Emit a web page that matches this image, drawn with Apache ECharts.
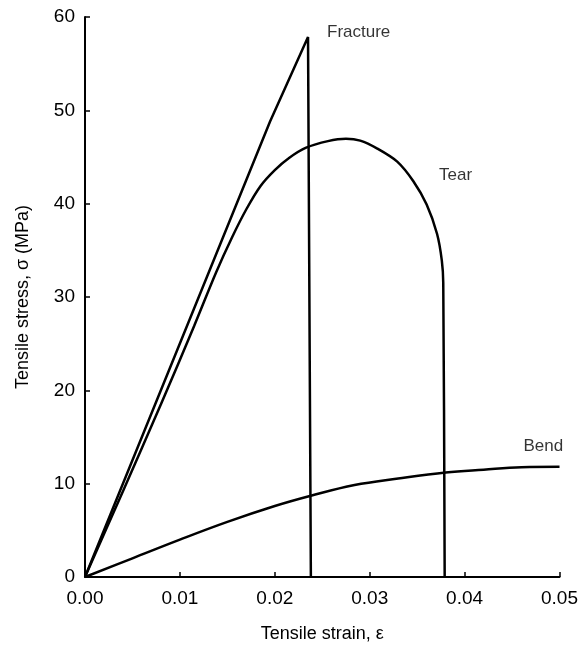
<!DOCTYPE html>
<html>
<head>
<meta charset="utf-8">
<script src="https://cdn.jsdelivr.net/npm/echarts@6/dist/echarts.min.js"></script>
<style>
  html, body { margin: 0; padding: 0; background: #fff; }
  #plot { width: 581px; height: 648px; }
</style>
</head>
<body>
<div id="plot"></div>
<script>
// tick labels
let strainTicks = [0, 0.01, 0.02, 0.03, 0.04, 0.05];
let stressTicks = [0, 10, 20, 30, 40, 50, 60];

// curves: [strain, stress MPa]
let fractureCurve = [
    [0, 0], [0.0195, 48.8], [0.0235, 57.85], [0.0238, 0]
];
let tearCurve = [
    [0, 0], [0.004, 9.2], [0.008, 18.5], [0.0115, 26.9], [0.0138, 32.6],
    [0.0155, 36.4], [0.0170, 39.4], [0.0185, 41.9], [0.0200, 43.6],
    [0.0215, 44.9], [0.0233, 46.0], [0.0256, 46.7], [0.0275, 46.95],
    [0.0290, 46.75], [0.0308, 45.9], [0.0329, 44.5], [0.0346, 42.4],
    [0.036, 39.9], [0.0371, 36.75], [0.0376, 33.9], [0.03775, 31.5],
    [0.0379, 0]
];
let bendCurve = [
    [0, 0], [0.005, 2.0], [0.010, 4.0], [0.015, 5.9], [0.020, 7.6],
    [0.0238, 8.7], [0.0284, 9.85], [0.033, 10.55], [0.038, 11.2],
    [0.042, 11.5], [0.046, 11.75], [0.050, 11.8]
];

// curve names and where their text sits (data coords)
let curveNames = ['Fracture', 'Tear', 'Bend'];
let labelSpots = [[0.0255, 58.4], [0.0373, 43.0], [0.0462, 14.0]];

let ink = '#000';
let font = 'Liberation Sans, Arial, sans-serif';

let chart = echarts.init(document.getElementById('plot'));

function curveSeries(data, smooth) {
    return {
        type: 'line',
        data: data,
        showSymbol: false,
        smooth: smooth,
        lineStyle: { color: ink, width: 2.5 },
        silent: true,
        z: 3
    };
}

let option = {
    animation: false,
    backgroundColor: '#fff',
    grid: { left: 85, right: 17, top: 17, bottom: 64, containLabel: false },
    xAxis: {
        type: 'value',
        min: strainTicks[0],
        max: strainTicks[strainTicks.length - 1],
        interval: 0.01,
        name: 'Tensile strain, ε',
        nameLocation: 'middle',
        nameGap: 48,
        nameTextStyle: { color: ink, fontSize: 18, fontFamily: font },
        axisLine: { lineStyle: { color: ink, width: 2 } },
        axisTick: { inside: true, length: 5, lineStyle: { color: ink, width: 1.5 } },
        axisLabel: {
            color: ink, fontSize: 19, fontFamily: font, margin: 12,
            formatter: v => v.toFixed(2)
        },
        splitLine: { show: false }
    },
    yAxis: {
        type: 'value',
        min: stressTicks[0],
        max: stressTicks[stressTicks.length - 1],
        interval: 10,
        name: 'Tensile stress, σ (MPa)',
        nameLocation: 'middle',
        nameGap: 53,
        nameTextStyle: { color: ink, fontSize: 18, fontFamily: font },
        axisLine: { lineStyle: { color: ink, width: 2 } },
        axisTick: { inside: true, length: 5, lineStyle: { color: ink, width: 1.5 } },
        axisLabel: { color: ink, fontSize: 19, fontFamily: font, margin: 10 },
        splitLine: { show: false }
    },
    series: [
        curveSeries(fractureCurve, false),
        curveSeries(tearCurve, 0.3),
        curveSeries(bendCurve, 0.4),
        {
            type: 'scatter',
            symbolSize: 0,
            silent: true,
            data: curveNames.map((n, i) => ({ name: n, value: labelSpots[i] })),
            label: {
                show: true,
                position: 'right',
                distance: 0,
                formatter: p => p.name,
                color: ink,
                fontSize: 17,
                fontFamily: font
            },
            z: 5
        }
    ]
};

chart.setOption(option);
</script>
</body>
</html>
